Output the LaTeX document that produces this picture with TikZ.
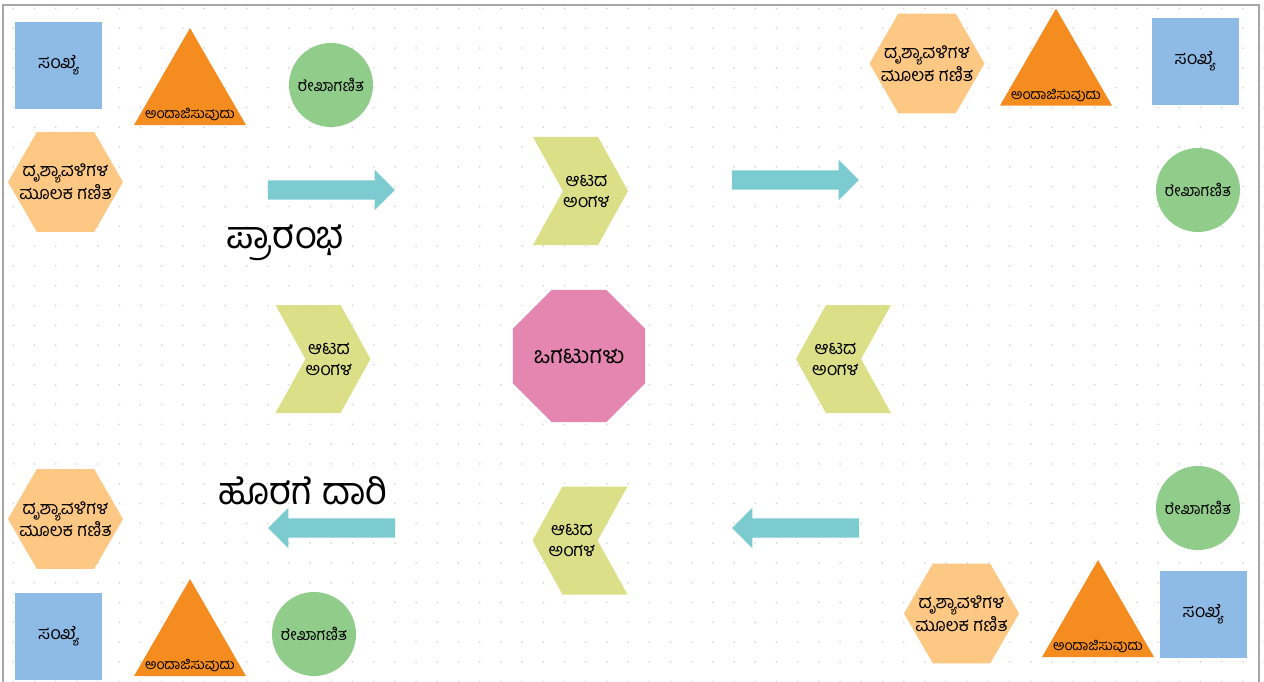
\documentclass[tikz,border=0pt]{standalone}
\usepackage{fontspec}
\newfontfamily\kan[Script=Kannada]{Hind Mysuru}
\usetikzlibrary{shapes.geometric,shapes.arrows,shapes.symbols}
\definecolor{sqblue}{RGB}{142,187,229}
\definecolor{triorange}{RGB}{245,140,32}
\definecolor{circgreen}{RGB}{145,205,138}
\definecolor{hexorange}{RGB}{253,200,132}
\definecolor{chevgreen}{RGB}{219,223,135}
\definecolor{octpink}{RGB}{229,134,177}
\definecolor{arrowteal}{RGB}{124,203,208}
\definecolor{dotgray}{RGB}{215,215,215}
\begin{document}
\begin{tikzpicture}[x=1pt,y=-1pt,
  every node/.style={font=\kan\fontsize{18}{21}\selectfont, inner sep=0pt},
  sq/.style={fill=sqblue, minimum size=87pt},
  tri/.style={regular polygon, regular polygon sides=3, fill=triorange, minimum size=129.3pt},
  tritext/.style={anchor=south, inner sep=4pt, font=\kan\fontsize{14}{16}\selectfont},
  circ/.style={circle, fill=circgreen, minimum size=84pt, font=\kan\fontsize{16}{19}\selectfont},
  hexa/.style={regular polygon, regular polygon sides=6, fill=hexorange, minimum size=115pt},
  chev/.style={signal, fill=chevgreen, signal pointer angle=122, minimum width=95pt, minimum height=108pt},
  chevr/.style={chev, signal to=east, signal from=west},
  chevl/.style={chev, signal to=west, signal from=east},
  intext/.style={align=center},
  oct/.style={regular polygon, regular polygon sides=8, fill=octpink, minimum size=143pt, font=\kan\fontsize{23}{27}\selectfont},
  blockarrow/.style={single arrow, fill=arrowteal, inner sep=9.5pt, minimum height=127pt, minimum width=40pt, single arrow head extend=10.5pt},
  bigtext/.style={font=\kan\fontsize{38}{44}\selectfont}]
\useasboundingbox (0,0) rectangle (1264,682);
\foreach \i in {0,...,59}
  \foreach \j in {0,...,34}
    \fill[dotgray] (13.3+21.2*\i, 8.5+19.8*\j) circle (1pt);
\draw[gray!70, line width=1.2pt] (3,700) -- (3,5) -- (1259,5) -- (1259,700);

\node[sq] (sq1) at (58.5,65.5) {ಸಂಖ್ಯೆ};
\node[tri, label={[tritext, name=tri1t]south:ಅಂದಾಜಿಸುವುದು}] (tri1) at (190,92.7) {};
\node[circ] (circ1) at (331,85) {ರೇಖಾಗಣಿತ};
\node[hexa, label={[intext, name=hex1t]center:{ದೃಶ್ಯಾವಳಿಗಳ\\ಮೂಲಕ ಗಣಿತ}}] (hex1) at (65.5,182) {};
\node[blockarrow] (arr1) at (326.5,190) {};
\node[bigtext] (start) at (285,243) {ಪ್ರಾರಂಭ};
\node[chevr, label={[intext, name=chev1t, xshift=6pt]center:{ಆಟದ\\ಅಂಗಳ}}] (chev1) at (580.5,191) {};

\node[hexa, label={[intext, name=hex2t]center:{ದೃಶ್ಯಾವಳಿಗಳ\\ಮೂಲಕ ಗಣಿತ}}] (hex2) at (927,63.5) {};
\node[tri, label={[tritext, name=tri2t]south:ಅಂದಾಜಿಸುವುದು}] (tri2) at (1056,73.2) {};
\node[sq] (sq2) at (1195,61.5) {ಸಂಖ್ಯೆ};
\node[circ] (circ2) at (1198,190) {ರೇಖಾಗಣಿತ};
\node[blockarrow] (arr2) at (790.5,180) {};

\node[chevr, label={[intext, name=chev2t, xshift=6pt]center:{ಆಟದ\\ಅಂಗಳ}}] (chev2) at (323,359) {};
\node[oct] (puzzle) at (579,356) {ಒಗಟುಗಳು};
\node[chevl, label={[intext, name=chev3t, xshift=-8pt]center:{ಆಟದ\\ಅಂಗಳ}}] (chev3) at (843.5,359) {};

\node[chevl, label={[intext, name=chev4t, xshift=-8pt]center:{ಆಟದ\\ಅಂಗಳ}}] (chev4) at (580,540.5) {};
\node[blockarrow, shape border rotate=180] (arr3) at (336.5,528) {};
\node[blockarrow, shape border rotate=180] (arr4) at (800.5,528) {};
\node[bigtext] (exit) at (303,491) {ಹೊರಗೆ ದಾರಿ};
\node[hexa, label={[intext, name=hex3t]center:{ದೃಶ್ಯಾವಳಿಗಳ\\ಮೂಲಕ ಗಣಿತ}}] (hex3) at (65.5,519) {};
\node[sq] (sq3) at (58.5,636.5) {ಸಂಖ್ಯೆ};
\node[tri, label={[tritext, name=tri3t]south:ಅಂದಾಜಿಸುವುದು}] (tri3) at (190,643.7) {};
\node[circ] (circ3) at (314,634) {ರೇಖಾಗಣಿತ};

\node[circ] (circ4) at (1198,508) {ರೇಖಾಗಣಿತ};
\node[hexa, label={[intext, name=hex4t]center:{ದೃಶ್ಯಾವಳಿಗಳ\\ಮೂಲಕ ಗಣಿತ}}] (hex4) at (961.5,613.5) {};
\node[tri, label={[tritext, name=tri4t]south:ಅಂದಾಜಿಸುವುದು}] (tri4) at (1098,624.7) {};
\node[sq] (sq4) at (1203,614) {ಸಂಖ್ಯೆ};
\end{tikzpicture}
\end{document}
